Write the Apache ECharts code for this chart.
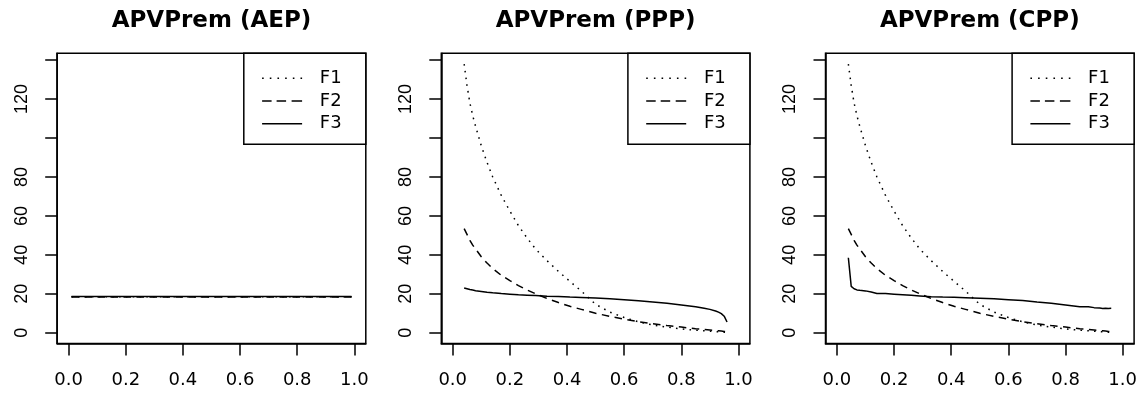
<!DOCTYPE html>
<html>
<head>
<meta charset="utf-8">
<script src="https://cdn.jsdelivr.net/npm/echarts@6/dist/echarts.min.js"></script>
<style>
  html, body { margin: 0; padding: 0; background: #fff; }
  #chart { width: 1143px; height: 394px; }
</style>
</head>
<body>
<div id="chart"></div>
<script>
// ---------- data ----------
const panelTitles = ['APVPrem (AEP)', 'APVPrem (PPP)', 'APVPrem (CPP)'];
const seriesNames = ['F1', 'F2', 'F3'];
const xTicks = [0, 0.2, 0.4, 0.6, 0.8, 1.0];
const yTicks = [0, 20, 40, 60, 80, 100, 120, 140];
const yLabels = [0, 20, 40, 60, 80, 120];

// Panel 1 (AEP)
const aepX  = [0.01, 0.1, 0.2, 0.3, 0.4, 0.5, 0.6, 0.7, 0.8, 0.9, 0.99];
const aepF1 = [18.5, 18.5, 18.5, 18.5, 18.5, 18.5, 18.5, 18.5, 18.5, 18.5, 18.5];
const aepF2 = [18.4, 18.4, 18.4, 18.4, 18.4, 18.4, 18.4, 18.4, 18.4, 18.4, 18.4];
const aepF3 = [18.6, 18.6, 18.6, 18.6, 18.6, 18.6, 18.6, 18.6, 18.6, 18.6, 18.6];

// Panels 2 and 3 (PPP, CPP) share the same x grid
const ppX   = [0.04, 0.05, 0.06, 0.07, 0.08, 0.10, 0.12, 0.14, 0.17, 0.20, 0.23, 0.26, 0.29, 0.33, 0.37, 0.41,
               0.45, 0.50, 0.55, 0.60, 0.65, 0.70, 0.75, 0.80, 0.85, 0.88, 0.90, 0.92, 0.93, 0.94, 0.95, 0.96];
const pppF1 = [138, 127, 118, 111.5, 106, 96, 87.5, 80, 70.5, 62.5, 55, 48.7, 43, 37, 31.5, 26.4,
               21.4, 14.6, 10.6, 7.8, 5.6, 4.0, 2.9, 2.0, 1.3, 1.0, 0.8, 0.6, 0.5, 0.4, 0.3, 0.2];
const pppF2 = [53.5, 50.5, 47.5, 45, 43, 39, 35.8, 33, 29.5, 26.8, 24.2, 22, 20, 17.6, 15.5, 13.6,
               12, 10, 8.4, 7, 5.7, 4.6, 3.7, 2.9, 2.1, 1.7, 1.4, 1.1, 1.0, 0.85, 0.7, 0.6];
const pppF3 = [23, 22.6, 22.2, 21.9, 21.6, 21.2, 20.8, 20.5, 20.1, 19.8, 19.5, 19.3, 19.1, 18.8, 18.6, 18.3,
               18.1, 17.8, 17.4, 17, 16.4, 15.8, 15.1, 14.3, 13.3, 12.6, 12, 11.2, 10.6, 9.8, 8.5, 5.5];
const cppF1 = [138, 127, 118, 111.5, 106, 96, 87.5, 80, 70.5, 62.5, 55, 48.7, 43, 37, 31.5, 26.4,
               21.4, 14.6, 10.6, 7.8, 5.6, 4.0, 2.9, 2.0, 1.3, 1.0, 0.8, 0.6, 0.5, 0.4, 0.3, 0.2];
const cppF2 = [53.5, 50.5, 47.5, 45, 43, 39, 35.8, 33, 29.5, 26.8, 24.2, 22, 20, 17.6, 15.5, 13.6,
               12, 10, 8.4, 7, 5.7, 4.6, 3.7, 2.9, 2.1, 1.7, 1.4, 1.1, 1.0, 0.85, 0.7, 0.6];
const cppF3 = [38.5, 23.8, 22.6, 22, 21.8, 21.5, 20.9, 20.2, 20.1, 19.8, 19.5, 19.2, 18.9, 18.5, 18.3, 18.2,
               18, 17.7, 17.4, 17, 16.6, 15.8, 15.2, 14.3, 13.3, 13.4, 12.9, 12.7, 12.5, 12.6, 12.5, 12.6];

// ---------- layout / style ----------
const panels = [
  { x: aepX, ys: [aepF1, aepF2, aepF3] },
  { x: ppX,  ys: [pppF1, pppF2, pppF3] },
  { x: ppX,  ys: [cppF1, cppF2, cppF3] }
];
const gridLefts = [57.2, 441.3, 825.5];
const gridW = 308.6, gridTop = 53.3, gridH = 290.2;
const legendW = 122;
const dashTypes = [[1.6, 5.2], [7.5, 5.5], 'solid'];
const legendIcons = [
  'path://M0,0h1.6v1.6h-1.6zM7.68,0h1.6v1.6h-1.6zM15.36,0h1.6v1.6h-1.6zM23.04,0h1.6v1.6h-1.6zM30.72,0h1.6v1.6h-1.6zM38.4,0h1.6v1.6h-1.6z',
  'path://M0,0h9.5v1.6h-9.5zM14.5,0h9.5v1.6h-9.5zM29.5,0h10.5v1.6h-10.5z',
  'path://M0,0h40v1.6h-40z'
];
const labelFont = 'DejaVu Sans';

const option = {
  animation: false,
  backgroundColor: '#fff',
  title: [], grid: [], xAxis: [], yAxis: [], legend: [], series: []
};

panels.forEach((p, i) => {
  const gl = gridLefts[i];
  option.title.push({
    text: panelTitles[i],
    left: gl + gridW / 2,
    textAlign: 'center',
    top: 9.5,
    padding: 0,
    textStyle: { fontFamily: labelFont, fontWeight: 'bold', fontSize: 23, color: '#000' }
  });
  option.grid.push({
    left: gl, top: gridTop, width: gridW, height: gridH,
    show: true, borderColor: '#000', borderWidth: 1.5, backgroundColor: 'transparent'
  });
  option.xAxis.push({
    type: 'value', gridIndex: i, min: -0.04, max: 1.04,
    splitLine: { show: false },
    axisLine: { show: true, onZero: false, lineStyle: { color: '#000', width: 1.5 } },
    axisTick: { show: true, inside: false, length: 12, customValues: xTicks, lineStyle: { color: '#000', width: 1.5 } },
    axisLabel: {
      show: true, customValues: xTicks, margin: 27.5,
      formatter: v => Number(v).toFixed(1),
      fontFamily: labelFont, fontSize: 18, color: '#000'
    }
  });
  option.yAxis.push({
    type: 'value', gridIndex: i, min: -5.52, max: 143.52,
    splitLine: { show: false },
    axisLine: { show: true, onZero: false, lineStyle: { color: '#000', width: 1.5 } },
    axisTick: { show: true, inside: false, length: 12, customValues: yTicks, lineStyle: { color: '#000', width: 1.5 } },
    axisLabel: {
      show: true, customValues: yLabels, margin: 26.5, rotate: 90,
      formatter: v => String(v),
      fontFamily: 'Liberation Sans', fontSize: 18, color: '#000'
    }
  });
  option.legend.push({
    orient: 'vertical',
    left: gl + gridW - legendW,
    top: gridTop,
    padding: [13.65, 16, 9.25, 18.3],
    itemGap: 0,
    itemWidth: 40,
    itemHeight: 1.6,
    selectedMode: false,
    backgroundColor: '#fff',
    borderColor: '#000',
    borderWidth: 1.5,
    borderRadius: 0,
    textStyle: {
      fontFamily: labelFont, fontSize: 18, color: '#000',
      lineHeight: 22.7, padding: [0, 0, 0, 12.7], width: 30
    },
    data: seriesNames.map((n, k) => ({ name: n, icon: legendIcons[k] }))
  });
  seriesNames.forEach((name, k) => {
    option.series.push({
      name: name,
      type: 'line',
      xAxisIndex: i, yAxisIndex: i,
      data: p.x.map((xv, j) => [xv, p.ys[k][j]]),
      symbol: 'none', showSymbol: false,
      color: '#000',
      lineStyle: { color: '#000', width: 1.5, type: dashTypes[k], cap: 'butt' },
      silent: true,
      z: 3
    });
  });
});

const chart = echarts.init(document.getElementById('chart'), null, { renderer: 'canvas' });
chart.setOption(option);
</script>
</body>
</html>
